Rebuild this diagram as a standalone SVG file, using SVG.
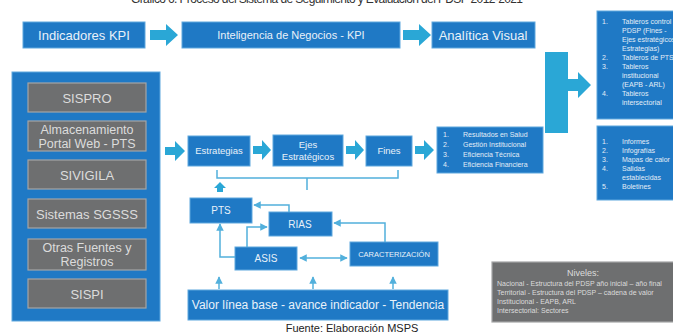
<svg xmlns="http://www.w3.org/2000/svg" width="673" height="333" viewBox="0 0 673 333">
  <defs>
    <style>
      .box { fill: #1f79c5; stroke: #5ea8de; stroke-width: 1; }
      .gbox { fill: #6e6f70; stroke: #a4a5a6; stroke-width: 1.2; }
      .arr { fill: #2aa7d6; }
      .wire { fill: none; stroke: #52b0dc; stroke-width: 1.5; }
      .t { font-family: "Liberation Sans", Arial, sans-serif; fill: #e9f1f9; }
      .g { font-family: "Liberation Sans", Arial, sans-serif; fill: #dcdcdc; }
      .lst { font-family: "Liberation Sans", Arial, sans-serif; fill: #e3edf7; font-size: 7px; }
    </style>
    <marker id="ah" viewBox="0 0 10 10" refX="9" refY="5" markerWidth="5" markerHeight="5" orient="auto-start-reverse">
      <path d="M0,0 L10,5 L0,10 z" fill="#52b0dc"/>
    </marker>
  </defs>

  <rect width="673" height="333" fill="#ffffff"/>

  <!-- chart title, cropped at the top edge -->
  <text x="327" y="3" text-anchor="middle" font-family="Liberation Sans, Arial, sans-serif" font-size="12" fill="#333" textLength="392">Gráfico 6. Proceso del Sistema de Seguimiento y Evaluación del PDSP 2012-2021</text>

  <!-- top row -->
  <g id="indicadores">
    <rect class="box" x="23" y="22" width="122" height="26"/>
    <text class="t" x="84" y="40" text-anchor="middle" font-size="13">Indicadores KPI</text>
  </g>
  <g id="inteligencia">
    <rect class="box" x="182" y="22" width="218" height="26"/>
    <text class="t" x="291" y="39" text-anchor="middle" font-size="11">Inteligencia de Negocios - KPI</text>
  </g>
  <g id="analitica">
    <rect class="box" x="432" y="22" width="103" height="26"/>
    <text class="t" x="483" y="40" text-anchor="middle" font-size="13">Analítica Visual</text>
  </g>

  <!-- output boards -->
  <g id="tableros">
    <rect class="box" x="597" y="11" width="80" height="108"/>
    <g class="lst">
      <text x="602" y="24">1.</text><text x="622" y="24">Tableros control</text>
      <text x="622" y="33">PDSP (Fines -</text>
      <text x="622" y="42">Ejes estratégicos</text>
      <text x="622" y="51">Estrategias)</text>
      <text x="602" y="60">2.</text><text x="622" y="60">Tableros de PTS</text>
      <text x="602" y="69">3.</text><text x="622" y="69">Tableros</text>
      <text x="622" y="78">institucional</text>
      <text x="622" y="87">(EAPB - ARL)</text>
      <text x="602" y="96">4.</text><text x="622" y="96">Tableros</text>
      <text x="622" y="105">intersectorial</text>
    </g>
  </g>
  <g id="informes">
    <rect class="box" x="597" y="126" width="80" height="74"/>
    <g class="lst">
      <text x="602" y="144">1.</text><text x="622" y="144">Informes</text>
      <text x="602" y="153">2.</text><text x="622" y="153">Infografías</text>
      <text x="602" y="162">3.</text><text x="622" y="162">Mapas de calor</text>
      <text x="602" y="171">4.</text><text x="622" y="171">Salidas</text>
      <text x="622" y="180">establecidas</text>
      <text x="602" y="189">5.</text><text x="622" y="189">Boletines</text>
    </g>
  </g>

  <!-- data sources -->
  <g id="fuentes">
    <rect class="box" x="12" y="72" width="148" height="249"/>
    <rect class="gbox" x="28" y="83" width="118" height="29"/>
    <text class="g" x="87" y="103" text-anchor="middle" font-size="13">SISPRO</text>
    <rect class="gbox" x="28" y="121" width="118" height="30"/>
    <text class="g" x="87" y="134" text-anchor="middle" font-size="12.5">Almacenamiento</text>
    <text class="g" x="87" y="148" text-anchor="middle" font-size="12.5">Portal Web - PTS</text>
    <rect class="gbox" x="28" y="160" width="118" height="29"/>
    <text class="g" x="87" y="180" text-anchor="middle" font-size="13">SIVIGILA</text>
    <rect class="gbox" x="28" y="199" width="118" height="29"/>
    <text class="g" x="87" y="219" text-anchor="middle" font-size="13">Sistemas SGSSS</text>
    <rect class="gbox" x="28" y="239" width="118" height="31"/>
    <text class="g" x="87" y="252" text-anchor="middle" font-size="12.5">Otras Fuentes y</text>
    <text class="g" x="87" y="266" text-anchor="middle" font-size="12.5">Registros</text>
    <rect class="gbox" x="28" y="279" width="118" height="29"/>
    <text class="g" x="87" y="299" text-anchor="middle" font-size="13">SISPI</text>
  </g>

  <!-- middle row -->
  <g id="estrategias">
    <rect class="box" x="188" y="136" width="62" height="30"/>
    <text class="t" x="219" y="154" text-anchor="middle" font-size="9.5">Estrategias</text>
  </g>
  <g id="ejes">
    <rect class="box" x="273" y="135" width="70" height="31"/>
    <text class="t" x="308" y="148" text-anchor="middle" font-size="9.5">Ejes</text>
    <text class="t" x="308" y="160" text-anchor="middle" font-size="9.5">Estratégicos</text>
  </g>
  <g id="fines">
    <rect class="box" x="366" y="136" width="46" height="30"/>
    <text class="t" x="389" y="154" text-anchor="middle" font-size="9.5">Fines</text>
  </g>
  <g id="resultados">
    <rect class="box" x="437" y="127" width="106" height="46"/>
    <g class="lst" font-size="7.5">
      <text x="443" y="137">1.</text><text x="463" y="137">Resultados en Salud</text>
      <text x="443" y="147">2.</text><text x="463" y="147">Gestión Institucional</text>
      <text x="443" y="157">3.</text><text x="463" y="157">Eficiencia Técnica</text>
      <text x="443" y="167">4.</text><text x="463" y="167">Eficiencia Financiera</text>
    </g>
  </g>

  <!-- lower cluster -->
  <g id="pts">
    <rect class="box" x="190" y="198" width="62" height="25"/>
    <text class="t" x="221" y="214" text-anchor="middle" font-size="10">PTS</text>
  </g>
  <g id="rias">
    <rect class="box" x="269" y="212" width="63" height="24"/>
    <text class="t" x="300" y="228" text-anchor="middle" font-size="10">RIAS</text>
  </g>
  <g id="asis">
    <rect class="box" x="235" y="247" width="62" height="23"/>
    <text class="t" x="266" y="262" text-anchor="middle" font-size="10">ASIS</text>
  </g>
  <g id="caracterizacion">
    <rect class="box" x="350" y="242" width="88" height="24"/>
    <text class="t" x="394" y="257" text-anchor="middle" font-size="7.5">CARACTERIZACIÓN</text>
  </g>
  <g id="valor">
    <rect class="box" x="188" y="290" width="260" height="30"/>
    <text class="t" x="318" y="309" text-anchor="middle" font-size="12">Valor línea base  - avance indicador - Tendencia</text>
  </g>

  <g id="niveles">
    <rect class="gbox" x="492" y="262" width="186" height="60"/>
    <g class="g" font-size="7">
      <text x="583" y="276" text-anchor="middle" font-size="9">Niveles:</text>
      <text x="497" y="286">Nacional - Estructura del PDSP año inicial – año final</text>
      <text x="497" y="295">Territorial - Estructura del PDSP – cadena de valor</text>
      <text x="497" y="304">Institucional - EAPB, ARL</text>
      <text x="497" y="313">Intersectorial: Sectores</text>
    </g>
  </g>

  <text x="352" y="332" text-anchor="middle" font-family="Liberation Sans, Arial, sans-serif" font-size="11" fill="#222">Fuente: Elaboración MSPS</text>

  <!-- connectors -->
  <g id="connectors">
    <!-- block arrows -->
    <polygon class="arr" points="150,30 166,30 166,24 178,35 166,46 166,40 150,40"/>
    <polygon class="arr" points="403,30 419,30 419,24 431,35 419,46 419,40 403,40"/>
    <polygon class="arr" points="545,52 568,52 568,79 578,79 578,72 591,85 578,98 578,91 568,91 568,133 545,133"/>
    <polygon class="arr" points="165,147 175,147 175,141 185,151 175,161 175,155 165,155"/>
    <polygon class="arr" points="253,146 262,146 262,140 271,150 262,160 262,154 253,154"/>
    <polygon class="arr" points="346,146 355,146 355,140 364,150 355,160 355,154 346,154"/>
    <polygon class="arr" points="415,146 424,146 424,140 434,150 424,160 424,154 415,154"/>

    <!-- brace under the middle row -->
    <path class="wire" d="M217,170 L217,178 L398,178 L398,170 M307,178 L307,190"/>
    <polygon class="arr" points="217,192 223,192 223,188 226,188 220,182 214,188 217,188"/>

    <!-- lower cluster links -->
    <path class="wire" d="M289,212 L289,205 L254,205" marker-end="url(#ah)"/>
    <path class="wire" d="M235,257 L220,257 L220,224" marker-end="url(#ah)"/>
    <path class="wire" d="M247,247 L247,227 L267,227" marker-end="url(#ah)"/>
    <path class="wire" d="M385,242 L385,223 L334,223" marker-end="url(#ah)"/>
    <path class="wire" d="M300,258 L347,258" marker-start="url(#ah)" marker-end="url(#ah)"/>
    <path class="wire" d="M219,289 L219,277" marker-end="url(#ah)"/>
    <path class="wire" d="M313,289 L313,277" marker-end="url(#ah)"/>
    <path class="wire" d="M393,289 L393,277" marker-end="url(#ah)"/>
  </g>
</svg>
